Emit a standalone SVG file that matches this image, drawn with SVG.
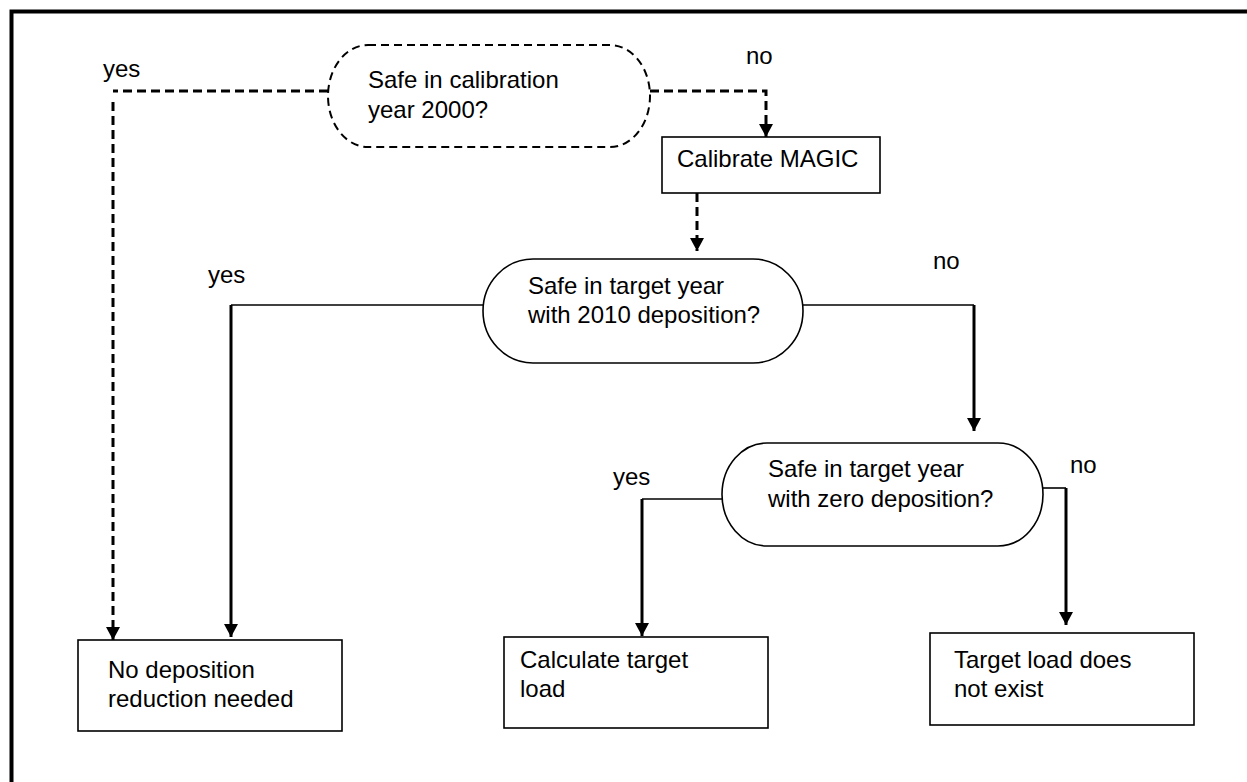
<svg xmlns="http://www.w3.org/2000/svg" width="1247" height="782" viewBox="0 0 1247 782">
<style>
text{font-family:"Liberation Sans",Arial,sans-serif;font-size:24px;fill:#000}
.shape{fill:#fff;stroke:#000;stroke-width:1.6}
.dshape{fill:#fff;stroke:#000;stroke-width:2;stroke-dasharray:8 5}
.h{fill:none;stroke:#000;stroke-width:1.6}
.v{fill:none;stroke:#000;stroke-width:3}
.dl{fill:none;stroke:#000;stroke-width:3;stroke-dasharray:9 5}
</style>
<defs>
<marker id="arr" markerUnits="userSpaceOnUse" markerWidth="14" markerHeight="14" viewBox="0 0 14 14" refX="13" refY="7" orient="auto">
<path d="M0 0 L13 7 L0 14 Z" fill="#000"/>
</marker>
</defs>
<rect x="11.5" y="11.5" width="1260" height="800" fill="#fff" stroke="#000" stroke-width="4"/>
<g id="connectors">
<path class="dl" d="M328 91 H113"/>
<path class="dl" d="M113 102 V640" marker-end="url(#arr)"/>
<path class="dl" d="M650 91 H766 V137" marker-end="url(#arr)"/>
<path class="dl" d="M697 193 V251" marker-end="url(#arr)"/>
<path class="h" d="M483 305 H231"/>
<path class="v" d="M231 305 V637" marker-end="url(#arr)"/>
<path class="h" d="M803 305 H974"/>
<path class="v" d="M974 305 V431" marker-end="url(#arr)"/>
<path class="h" d="M722 499 H642"/>
<path class="v" d="M642 499 V636" marker-end="url(#arr)"/>
<path class="h" d="M1043 488 H1066"/>
<path class="v" d="M1066 488 V625" marker-end="url(#arr)"/>
</g>
<g id="labels">
<text x="103" y="77">yes</text>
<text x="746" y="64">no</text>
<text x="208" y="283">yes</text>
<text x="933" y="269">no</text>
<text x="613" y="485">yes</text>
<text x="1070" y="473">no</text>
</g>
<g id="decision1">
<path class="dshape" d="M368 45 H610 A40 51 0 0 1 610 147 H368 A40 51 0 0 1 368 45 Z"/>
<text x="368" y="88">Safe in calibration</text>
<text x="368" y="118">year 2000?</text>
</g>
<g id="calibrate">
<rect class="shape" x="662" y="137" width="218" height="56"/>
<text x="677" y="167">Calibrate MAGIC</text>
</g>
<g id="decision2">
<path class="shape" d="M533 259 H753 A50 52 0 0 1 753 363 H533 A50 52 0 0 1 533 259 Z"/>
<text x="528" y="294">Safe in target year</text>
<text x="528" y="323">with 2010 deposition?</text>
</g>
<g id="decision3">
<path class="shape" d="M767 443 H998 A45 51.5 0 0 1 998 546 H767 A45 51.5 0 0 1 767 443 Z"/>
<text x="768" y="477">Safe in target year</text>
<text x="768" y="507">with zero deposition?</text>
</g>
<g id="nored">
<rect class="shape" x="78" y="640" width="264" height="91"/>
<text x="108" y="678">No deposition</text>
<text x="108" y="707">reduction needed</text>
</g>
<g id="calc">
<rect class="shape" x="504" y="637" width="264" height="91"/>
<text x="520" y="668">Calculate target</text>
<text x="520" y="697">load</text>
</g>
<g id="noexist">
<rect class="shape" x="930" y="633" width="264" height="92"/>
<text x="954" y="668">Target load does</text>
<text x="954" y="697">not exist</text>
</g>
</svg>
